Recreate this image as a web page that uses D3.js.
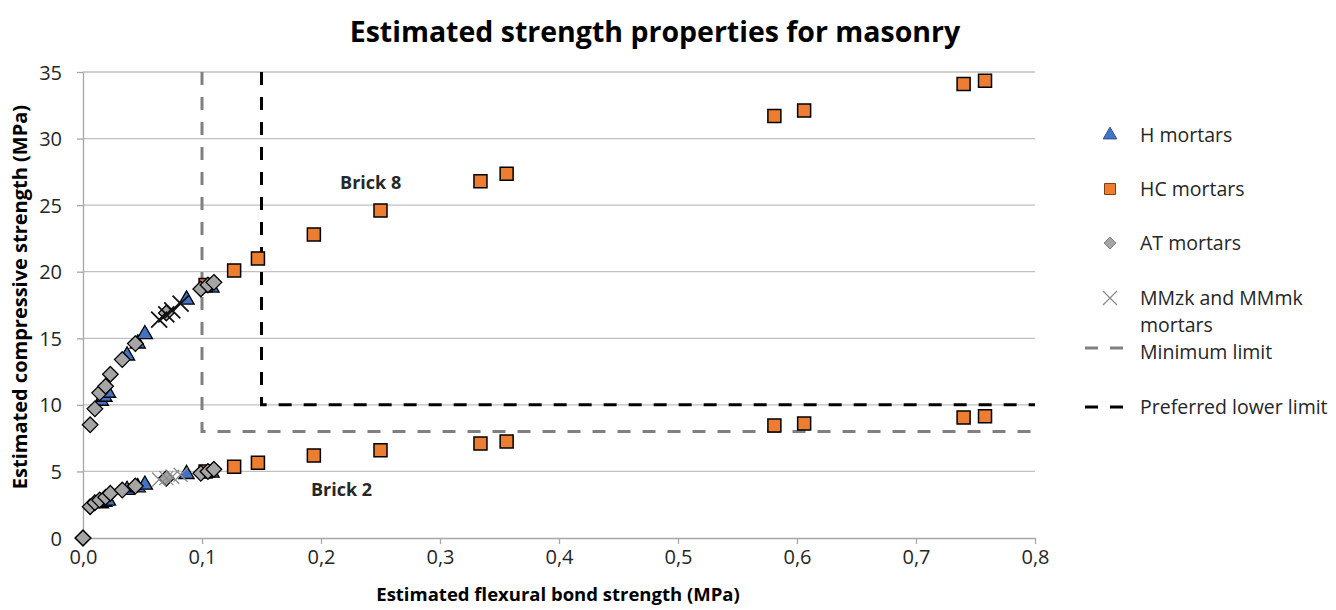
<!DOCTYPE html>
<html><head><meta charset="utf-8">
<script src="https://cdn.jsdelivr.net/npm/d3@7"></script>
<style>body{margin:0;background:#fff}svg{display:block}text{font-family:"Open Sans",sans-serif}</style>
</head><body><svg id="c" width="1336" height="610"></svg>
<script>
// ---- data ----
const hX    = [0.015, 0.018, 0.021, 0.037, 0.046, 0.052, 0.087, 0.108];
const hTop  = [10.3, 10.6, 10.9, 13.7, 14.6, 15.3, 17.9, 18.8];
const hBot  = [2.6, 2.7, 2.8, 3.6, 3.8, 4.0, 4.8, 4.9];

const hcX   = [0.103, 0.127, 0.147, 0.194, 0.250, 0.334, 0.356, 0.581, 0.606, 0.740, 0.758];
const hcTop = [19.0, 20.1, 21.0, 22.8, 24.6, 26.8, 27.35, 31.7, 32.1, 34.1, 34.35];
const hcBot = [5.0, 5.35, 5.65, 6.2, 6.6, 7.1, 7.25, 8.45, 8.6, 9.05, 9.15];

const atX   = [0.000, 0.006, 0.010, 0.014, 0.019, 0.023, 0.033, 0.044, 0.070, 0.099, 0.105, 0.110];
const atTop = [0.0, 8.5, 9.7, 10.9, 11.4, 12.3, 13.4, 14.6, 16.9, 18.7, 19.0, 19.2];
const atBot = [0.0, 2.35, 2.65, 2.85, 3.06, 3.36, 3.6, 3.9, 4.48, 4.86, 5.0, 5.16];

const mmX   = [0.064, 0.070, 0.075, 0.082];
const mmTop = [16.4, 16.8, 17.1, 17.6];
const mmBot = [4.4, 4.5, 4.6, 4.75];

const minLimit  = [[0.1, 35], [0.1, 8], [0.8, 8]];
const prefLimit = [[0.15, 35], [0.15, 10], [0.8, 10]];

const xTicks = [0, 0.1, 0.2, 0.3, 0.4, 0.5, 0.6, 0.7, 0.8];
const yTicks = [0, 5, 10, 15, 20, 25, 30, 35];
const legendLabels = ["H mortars", "HC mortars", "AT mortars", ["MMzk and MMmk", "mortars"], "Minimum limit", "Preferred lower limit"];

// ---- chart ----
const svg = d3.select("#c");
const x = d3.scaleLinear().domain([0, 0.8]).range([83, 1035]);
const y = d3.scaleLinear().domain([0, 35]).range([538, 72]);
const fmt = d => d3.format(".1f")(d).replace(".", ",");

// gridlines
svg.append("g").selectAll("line").data(yTicks.filter(d => d > 0)).join("line")
  .attr("x1", x(0)).attr("x2", x(0.8)).attr("y1", d => y(d)).attr("y2", d => y(d))
  .attr("stroke", "#c0c0c0").attr("stroke-width", 1.3);

// axes
const xa = svg.append("g").attr("transform", `translate(0,${y(0)})`)
  .call(d3.axisBottom(x).tickValues(xTicks).tickFormat(fmt).tickSize(6).tickSizeOuter(0));
const ya = svg.append("g").attr("transform", `translate(${x(0)},0)`)
  .call(d3.axisLeft(y).tickValues(yTicks).tickSize(6).tickSizeOuter(0));
[xa, ya].forEach(a => {
  a.select(".domain").attr("stroke", "#a6a6a6").attr("stroke-width", 1.3);
  a.selectAll(".tick line").attr("stroke", "#a6a6a6").attr("stroke-width", 1.3);
  a.selectAll("text").attr("font-family", "Open Sans").attr("font-size", 20).attr("fill", "#262626");
});
xa.selectAll("text").attr("y", 8).attr("dy", "0.9em");
ya.selectAll("text").attr("x", -21).attr("dy", "0.35em");

// limit lines
const line = d3.line().x(d => x(d[0])).y(d => y(d[1]));
svg.append("path").attr("d", line(minLimit)).attr("fill", "none")
  .attr("stroke", "#808080").attr("stroke-width", 3).attr("stroke-dasharray", "13,12");
svg.append("path").attr("d", line(prefLimit)).attr("fill", "none")
  .attr("stroke", "#000").attr("stroke-width", 3).attr("stroke-dasharray", "13,12");

// markers
const tri = d3.symbol().type(d3.symbolTriangle).size(100)();
const sq = "M-6.5,-6.5H6.5V6.5H-6.5Z";
const dia = "M0,-7.8L7.8,0L0,7.8L-7.8,0Z";
const crs = s => `M${-s},${-s}L${s},${s}M${-s},${s}L${s},${-s}`;

function pts(xs, ys) { return xs.map((v, i) => [v, ys[i]]); }
function drawSeries(data, path, fill, stroke, sw) {
  svg.append("g").selectAll("path").data(data).join("path")
    .attr("d", path).attr("transform", d => `translate(${x(d[0])},${y(d[1])})`)
    .attr("fill", fill).attr("stroke", stroke).attr("stroke-width", sw);
}
drawSeries(pts(hX, hTop).concat(pts(hX, hBot)), tri, "#4472c4", "#000", 1.3);
drawSeries(pts(hcX, hcTop).concat(pts(hcX, hcBot)), sq, "#ed7d31", "#000", 1.5);
drawSeries(pts(atX, atTop).concat(pts(atX, atBot)), dia, "#a5a5a5", "#000", 1.3);
drawSeries(pts(mmX, mmTop), crs(8), "none", "#111", 1.8);
drawSeries(pts(mmX, mmBot), crs(7), "none", "#8c8c8c", 1.3);

// annotations
svg.append("text").attr("x", x(0.216)).attr("y", y(26.7)).attr("dy", "0.35em")
  .attr("font-size", 18).attr("font-weight", "bold").attr("fill", "#262626").text("Brick 8");
svg.append("text").attr("x", x(0.1915)).attr("y", y(3.6)).attr("dy", "0.35em")
  .attr("font-size", 18).attr("font-weight", "bold").attr("fill", "#262626").text("Brick 2");

// title & axis titles
svg.append("text").attr("x", 655).attr("y", 42).attr("text-anchor", "middle")
  .attr("font-size", 28.5).attr("font-weight", "bold").attr("fill", "#000")
  .text("Estimated strength properties for masonry");
svg.append("text").attr("x", 558).attr("y", 601).attr("text-anchor", "middle")
  .attr("font-size", 18.5).attr("font-weight", "bold").attr("fill", "#000")
  .text("Estimated flexural bond strength (MPa)");
svg.append("text").attr("transform", "translate(27,297) rotate(-90)").attr("text-anchor", "middle")
  .attr("font-size", 20).attr("font-weight", "bold").attr("fill", "#000")
  .text("Estimated compressive strength (MPa)");

// legend
const lg = svg.append("g");
const ly = [135, 189, 243, 298, 352, 407];
const lx = 1110, tx = 1140;
lg.append("path").attr("d", d3.symbol().type(d3.symbolTriangle).size(80)()).attr("transform", `translate(${lx},${ly[0]})`)
  .attr("fill", "#4472c4").attr("stroke", "#2f528f").attr("stroke-width", 1);
lg.append("path").attr("d", "M-5.5,-5.5H5.5V5.5H-5.5Z").attr("transform", `translate(${lx},${ly[1]})`)
  .attr("fill", "#ed7d31").attr("stroke", "#7f3f14").attr("stroke-width", 1);
lg.append("path").attr("d", "M0,-6L6,0L0,6L-6,0Z").attr("transform", `translate(${lx},${ly[2]})`)
  .attr("fill", "#a5a5a5").attr("stroke", "#7f7f7f").attr("stroke-width", 1);
lg.append("path").attr("d", crs(7)).attr("transform", `translate(${lx},${ly[3]})`)
  .attr("fill", "none").attr("stroke", "#8c8c8c").attr("stroke-width", 1.3);
lg.append("line").attr("x1", 1085).attr("x2", 1124).attr("y1", ly[4] - 4).attr("y2", ly[4] - 4)
  .attr("stroke", "#808080").attr("stroke-width", 3).attr("stroke-dasharray", "13,12");
lg.append("line").attr("x1", 1085).attr("x2", 1124).attr("y1", ly[5]).attr("y2", ly[5])
  .attr("stroke", "#000").attr("stroke-width", 3).attr("stroke-dasharray", "13,12");
legendLabels.forEach((t, i) => {
  const el = lg.append("text").attr("x", tx).attr("y", ly[i]).attr("dy", "0.35em")
    .attr("font-size", 19.5).attr("fill", "#262626");
  if (Array.isArray(t)) {
    el.append("tspan").attr("x", tx).text(t[0]);
    el.append("tspan").attr("x", tx).attr("dy", 27).text(t[1]);
  } else el.text(t);
});
</script></body></html>
